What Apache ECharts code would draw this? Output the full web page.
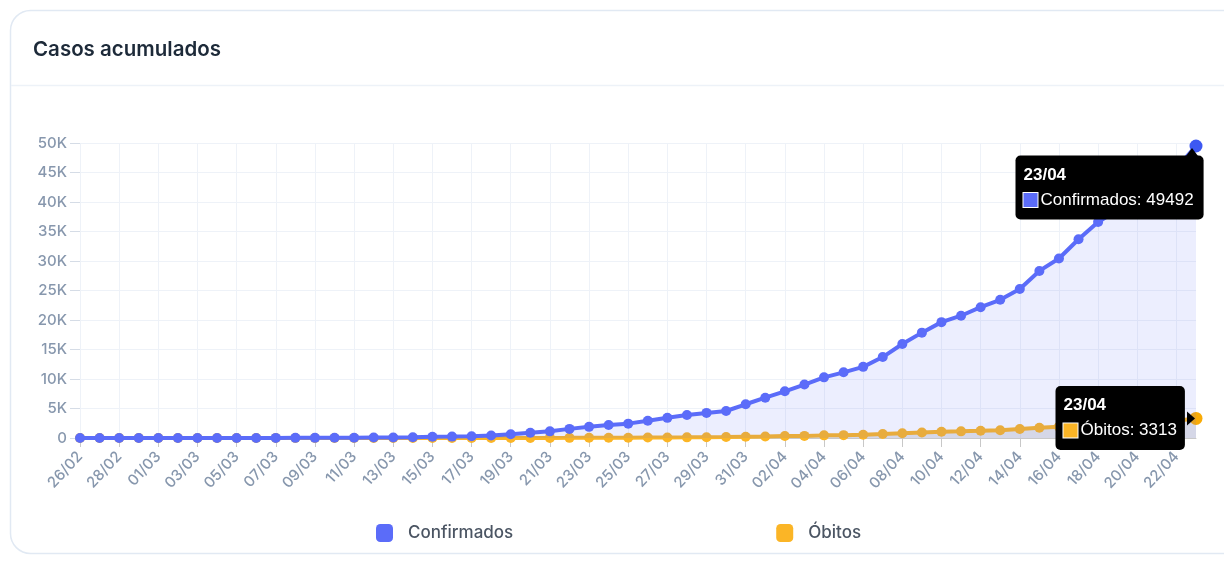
<!DOCTYPE html>
<html>
<head>
<meta charset="utf-8">
<script src="https://cdn.jsdelivr.net/npm/echarts@6/dist/echarts.min.js"></script>
<style>
html,body{margin:0;padding:0;background:#fff;}
#c{width:1224px;height:564px;}
</style>
</head>
<body>
<div id="c"></div>
<script>
const titleText = 'Casos acumulados';
const seriesNames = ['Confirmados', 'Óbitos'];
const dates = ['26/02','27/02','28/02','29/02',
'01/03','02/03','03/03','04/03','05/03','06/03','07/03','08/03','09/03','10/03',
'11/03','12/03','13/03','14/03','15/03','16/03','17/03','18/03','19/03','20/03',
'21/03','22/03','23/03','24/03','25/03','26/03','27/03','28/03','29/03','30/03','31/03',
'01/04','02/04','03/04','04/04','05/04','06/04','07/04','08/04','09/04','10/04',
'11/04','12/04','13/04','14/04','15/04','16/04','17/04','18/04','19/04','20/04',
'21/04','22/04','23/04'];
const confirmados = [1,1,1,2,
2,2,2,3,8,13,19,25,25,34,
52,77,98,121,200,234,291,428,621,904,
1128,1546,1891,2201,2433,2915,3417,3904,4256,4579,5717,
6836,7910,9056,10278,11130,12056,13717,15927,17857,19638,
20727,22169,23430,25262,28320,30425,33682,36599,38654,40581,
43079,45757,49492];
const obitos = [0,0,0,0,
0,0,0,0,0,0,0,0,0,0,
0,0,0,0,0,0,1,4,7,11,
18,25,34,46,57,77,92,111,136,159,201,
240,324,359,445,486,553,667,800,941,1056,
1124,1223,1328,1532,1736,1924,2141,2347,2462,2575,
2741,2906,3313];
const yTicks = {min: 0, max: 50000, interval: 5000};

const BLUE = '#5b6cf9', BLUE_DARK = '#3d58f2';
const ORANGE = '#fbb526', ORANGE_DARK = '#f9ab06';
const last = dates.length - 1;

function withLast(arr, color) {
  return arr.map((v, i) => i === last ? {value: v, symbolSize: 13, itemStyle: {color: color}} : v);
}
function tipLabel(name, val, color, pos, padR) {
  return {
    show: true,
    position: pos,
    formatter: '{d|' + dates[last] + '}\n{m|}{t|' + name + ': ' + val + '}',
    backgroundColor: '#000',
    borderRadius: 5,
    padding: [7, padR, 7, 8],
    color: '#fff',
    rich: {
      d: {fontFamily: 'Liberation Sans, Arial, sans-serif', fontSize: 17, fontWeight: 'bold', color: '#fff', lineHeight: 25},
      m: {width: 14, height: 14, backgroundColor: color, borderColor: '#fff', borderWidth: 1, lineHeight: 25},
      t: {fontFamily: 'Liberation Sans, Arial, sans-serif', fontSize: 17, color: '#fff', lineHeight: 25, padding: [0, 0, 0, 3]}
    }
  };
}

const chart = echarts.init(document.getElementById('c'));
chart.setOption({
  animation: false,
  graphic: [
    {type: 'rect', z: -10, shape: {x: 10.5, y: 10.5, width: 1260, height: 543, r: 20},
     style: {fill: '#fff', stroke: '#e1e9f3', lineWidth: 1.5}},
    {type: 'line', z: -9, shape: {x1: 11, y1: 85.5, x2: 1224, y2: 85.5},
     style: {stroke: '#edf2f8', lineWidth: 1.5}}
  ],
  title: {
    text: titleText, left: 28, top: 34,
    textStyle: {fontFamily: 'Inter', fontSize: 20.5, fontWeight: 600, color: '#1d2a39'}
  },
  legend: {
    left: 376, top: 524, padding: 0,
    icon: 'roundRect', itemWidth: 17, itemHeight: 18, itemGap: 263,
    textStyle: {fontFamily: 'Inter', fontSize: 17, fontWeight: 500, color: '#4b5563', padding: [0, 0, 0, 10]},
    data: seriesNames
  },
  grid: {left: 80, right: 28, top: 143, bottom: 126},
  xAxis: {
    type: 'category', data: dates, boundaryGap: false,
    axisLine: {lineStyle: {color: '#c8c8c8', width: 1}},
    axisTick: {show: true, interval: 1, length: 9, lineStyle: {color: '#c8c8c8'}},
    axisLabel: {interval: 1, rotate: 47, margin: 16, fontFamily: 'Inter', fontSize: 15, fontWeight: 500, color: '#8797ad'},
    splitLine: {show: true, interval: 1, lineStyle: {color: '#eef2f8', width: 1}}
  },
  yAxis: {
    type: 'value', min: yTicks.min, max: yTicks.max, interval: yTicks.interval,
    axisLine: {show: false},
    axisTick: {show: true, length: 10, lineStyle: {color: '#d5dce6'}},
    axisLabel: {margin: 13, fontFamily: 'Inter', fontSize: 15, fontWeight: 500, color: '#8797ad',
      formatter: v => v === 0 ? '0' : (v / 1000) + 'K'},
    splitLine: {lineStyle: {color: '#eef2f8', width: 1}}
  },
  series: [
    {
      name: seriesNames[0], type: 'line', z: 4,
      data: withLast(confirmados, BLUE_DARK),
      symbol: 'circle', symbolSize: 10, showAllSymbol: true,
      lineStyle: {color: BLUE, width: 4},
      itemStyle: {color: BLUE},
      areaStyle: {color: 'rgba(91,108,249,0.16)'},
      markPoint: {
        data: [
          {coord: [last, confirmados[last]], symbol: 'triangle', symbolSize: [12, 8], symbolOffset: [-4, 6],
           itemStyle: {color: '#000'}, label: {show: false}},
          {coord: [last, confirmados[last]], symbol: 'rect', symbolSize: 1,
           itemStyle: {color: 'rgba(0,0,0,0)'},
           label: tipLabel(seriesNames[0], confirmados[last], BLUE, [-180, 10], 10)}
        ]
      }
    },
    {
      name: seriesNames[1], type: 'line', z: 3,
      data: withLast(obitos, ORANGE_DARK),
      symbol: 'circle', symbolSize: 10, showAllSymbol: true,
      lineStyle: {color: ORANGE, width: 4},
      itemStyle: {color: ORANGE},
      areaStyle: {color: 'rgba(180,180,180,0.5)'},
      markPoint: {
        data: [
          {coord: [last, obitos[last]], symbol: 'triangle', symbolSize: [14, 8], symbolRotate: -90, symbolOffset: [-5, 0],
           itemStyle: {color: '#000'}, label: {show: false}},
          {coord: [last, obitos[last]], symbol: 'rect', symbolSize: 1,
           itemStyle: {color: 'rgba(0,0,0,0)'},
           label: tipLabel(seriesNames[1], obitos[last], ORANGE, [-140, -32], 8)}
        ]
      }
    }
  ]
});
</script>
</body>
</html>
